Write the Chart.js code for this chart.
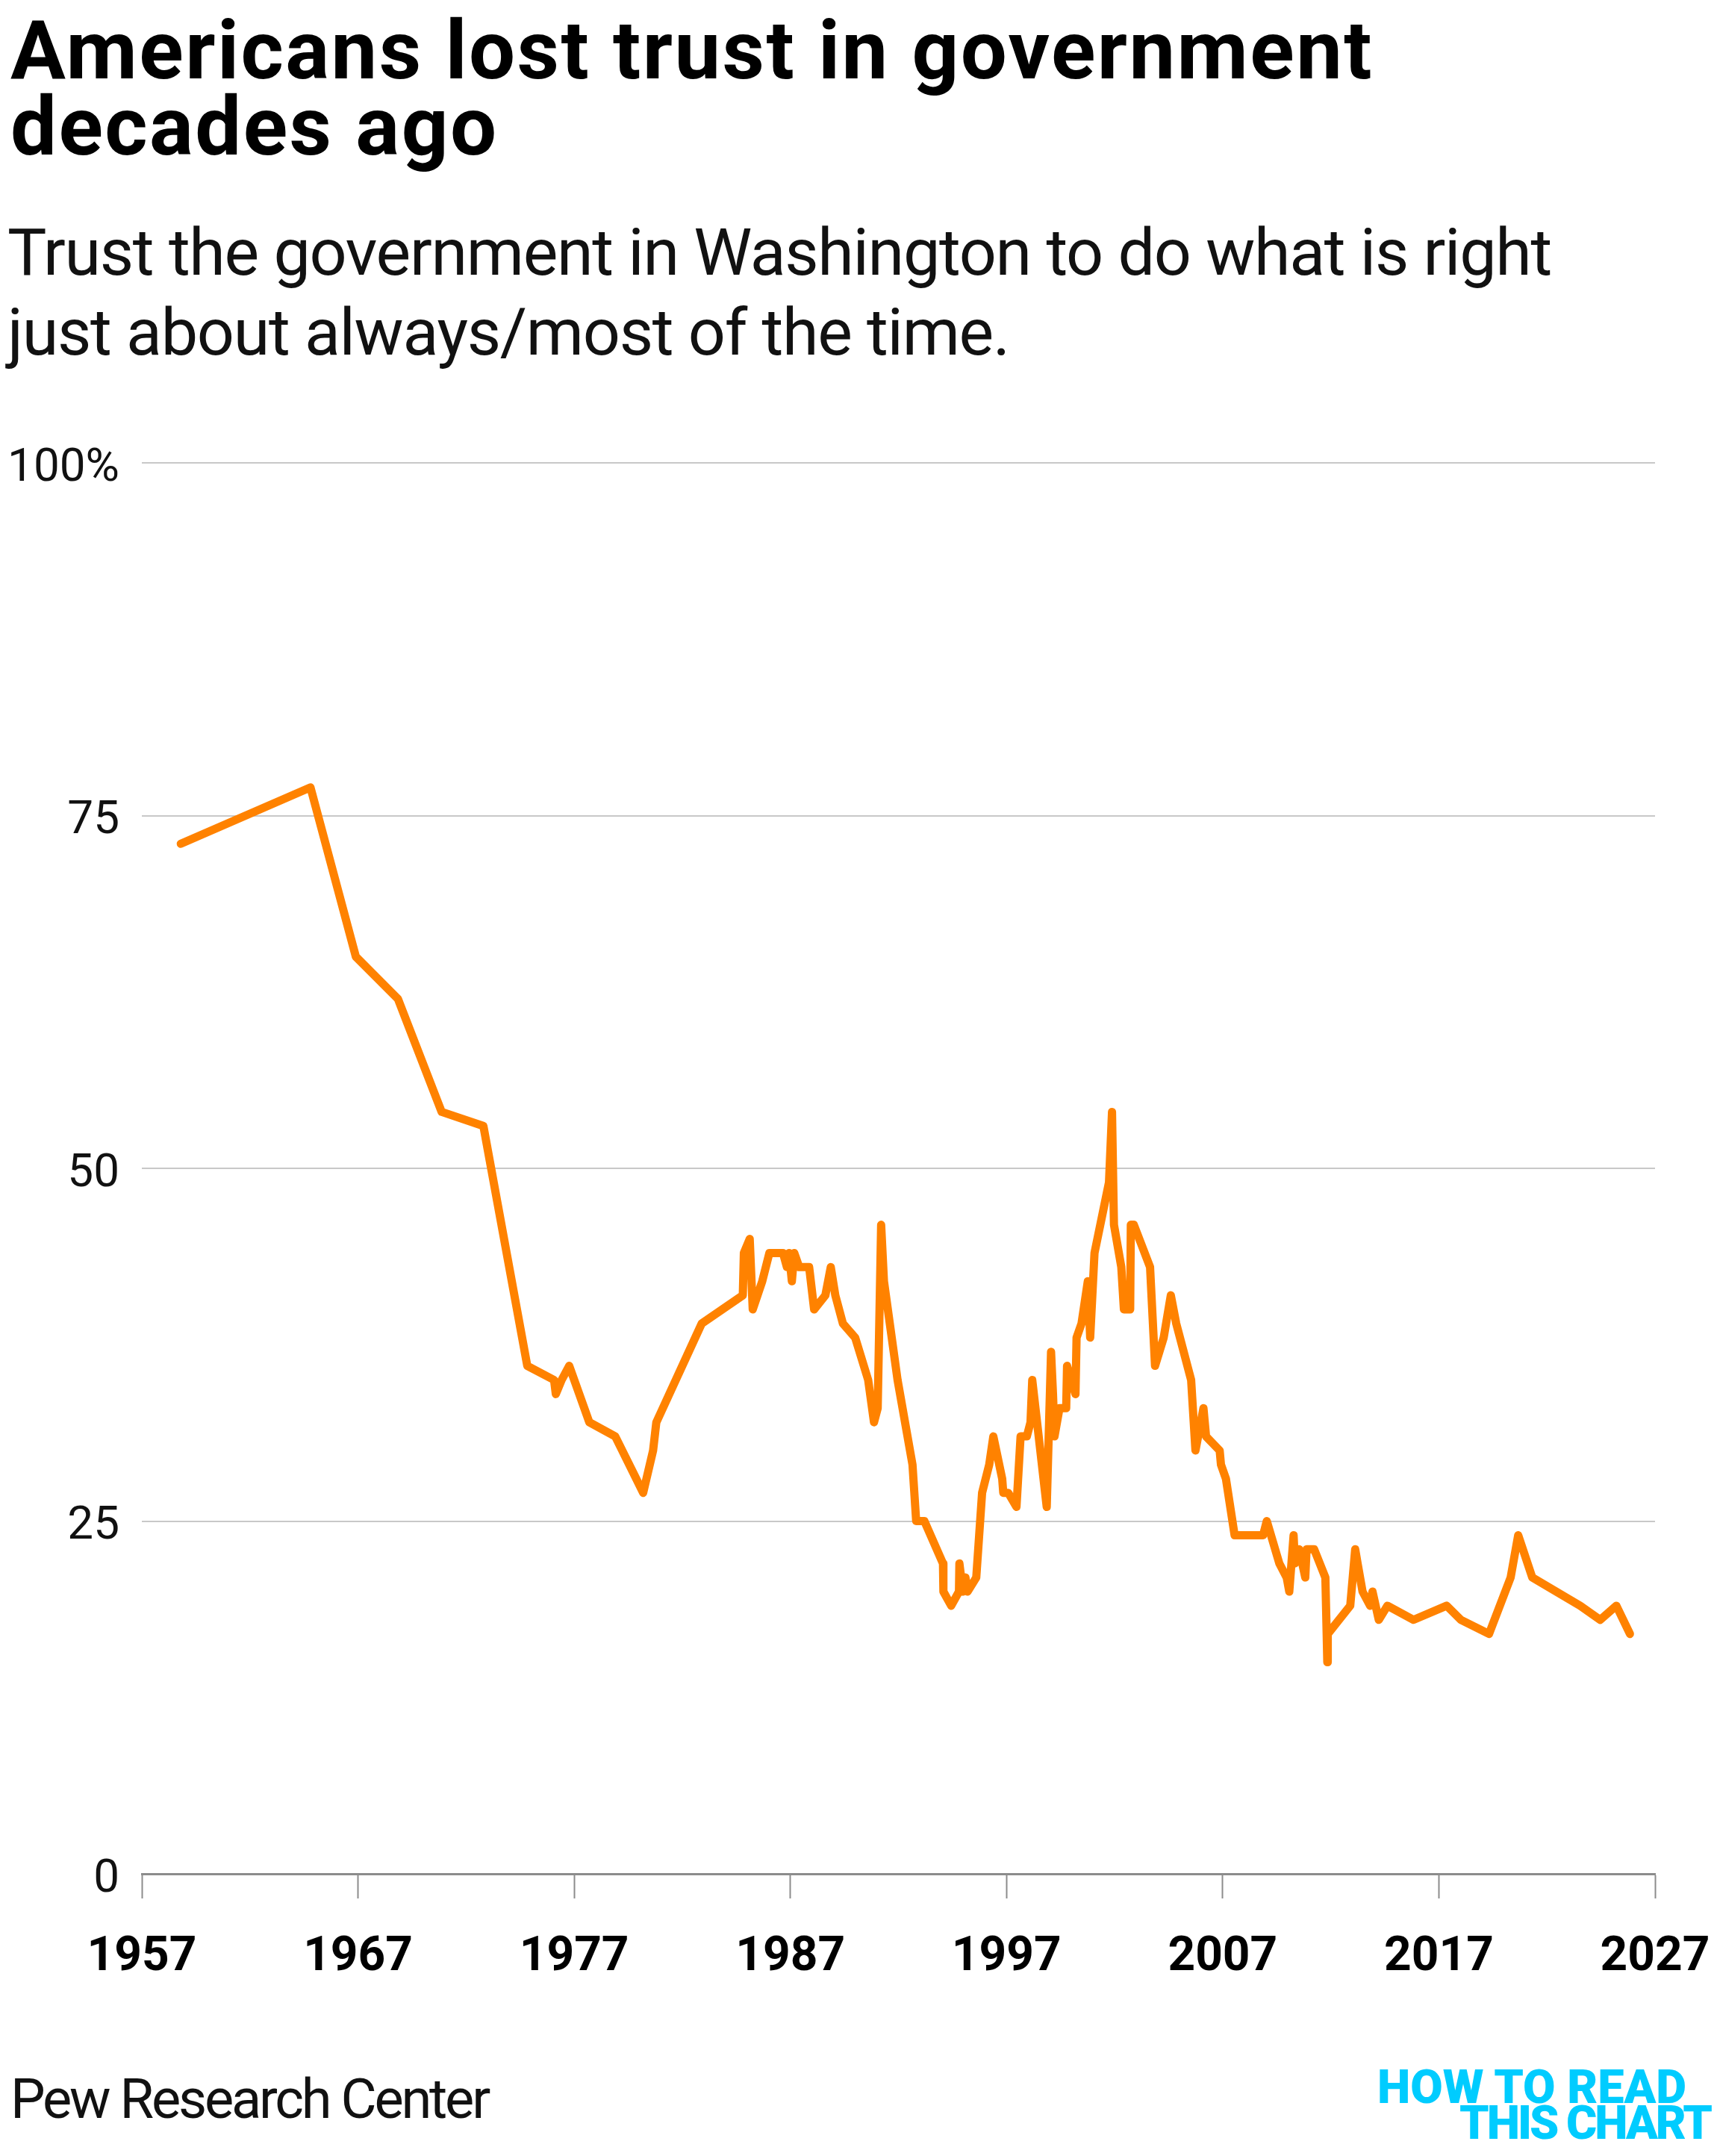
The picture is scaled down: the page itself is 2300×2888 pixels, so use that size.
<!DOCTYPE html>
<html>
<head>
<meta charset="utf-8">
<script src="https://cdn.jsdelivr.net/npm/chart.js@4/dist/chart.umd.min.js"></script>
<style>
html,body{margin:0;padding:0;background:#fff;}
#page{position:relative;width:2300px;height:2888px;overflow:hidden;background:#fff;}
#chartCanvas{position:absolute;left:0;top:0;}
.txt{position:absolute;white-space:nowrap;font-family:Roboto,"Noto Sans",sans-serif;margin:0;padding:0;}
.title{font-weight:700;color:#000;}
.sub{font-weight:400;color:#111;}
.foot{font-weight:400;color:#111;}
.logo{font-weight:900;color:#00ccff;}
</style>
</head>
<body>
<div id="page">
  <canvas id="chartCanvas" width="2300" height="2888"></canvas>
  <div id="t1" class="txt title">Americans lost trust in government</div>
  <div id="t2" class="txt title">decades ago</div>
  <div id="s1" class="txt sub">Trust the government in Washington to do what is right</div>
  <div id="s2" class="txt sub">just about always/most of the time.</div>
  <div id="f1" class="txt foot">Pew Research Center</div>
  <div id="l1" class="txt logo">HOW TO READ</div>
  <div id="l2" class="txt logo">THIS CHART</div>
</div>
<script>
// ---- Data ----
const surveyDates = [
  1958.8, 1964.8, 1966.9, 1968.85, 1970.87, 1972.8, 1974.83, 1976.07, 1976.15, 1976.42,
  1976.77, 1977.7, 1978.9, 1979.87, 1980.19, 1980.65, 1980.8, 1982.9, 1984.8, 1984.85,
  1985.12, 1985.26, 1985.7, 1986.03, 1986.66, 1986.84, 1986.94, 1987.07, 1987.18, 1987.41,
  1987.87, 1988.1, 1988.62, 1988.87, 1989.08, 1989.43, 1990.0, 1990.6, 1990.87, 1991.04,
  1991.2, 1991.33, 1991.96, 1992.65, 1992.82, 1993.2, 1994.06, 1994.08, 1994.44, 1994.8,
  1994.82, 1994.98, 1995.1, 1995.2, 1995.6, 1995.87, 1996.2, 1996.39, 1996.8, 1996.85,
  1997.08, 1997.46, 1997.65, 1997.94, 1998.11, 1998.19, 1998.86, 1999.06, 1999.15, 1999.22,
  1999.45, 1999.76, 1999.8, 2000.19, 2000.24, 2000.47, 2000.76, 2000.87, 2001.07, 2001.74,
  2001.88, 2001.97, 2002.31, 2002.43, 2002.72, 2002.75, 2002.89, 2003.64, 2003.87, 2004.27,
  2004.6, 2004.85, 2005.54, 2005.74, 2006.11, 2006.23, 2006.86, 2006.92, 2007.15, 2007.55,
  2008.87, 2009.04, 2009.62, 2009.96, 2010.08, 2010.28, 2010.34, 2010.54, 2010.82, 2010.88,
  2011.23, 2011.75, 2011.84, 2011.86, 2012.9, 2013.13, 2013.24, 2013.47, 2013.82, 2013.93,
  2014.22, 2014.62, 2015.83, 2017.36, 2018.02, 2019.32, 2020.32, 2020.67, 2021.32, 2023.54,
  2024.46, 2025.21, 2025.84
];
const trustPct = [
  73, 77, 65, 62, 54, 53, 36, 35, 34, 35,
  36, 32, 31, 28, 27, 30, 32, 39, 41, 44,
  45, 40, 42, 44, 44, 43, 44, 42, 44, 43,
  43, 40, 41, 43, 41, 39, 38, 35, 32, 33,
  46, 42, 35, 29, 25, 25, 22, 20, 19, 20,
  22, 20, 21, 20, 21, 27, 29, 31, 28, 27,
  27, 26, 31, 31, 32, 35, 26, 37, 34, 31,
  33, 33, 36, 34, 38, 39, 42, 38, 44, 49,
  54, 46, 43, 40, 40, 46, 46, 43, 36, 38,
  41, 39, 35, 30, 33, 31, 30, 29, 28, 24,
  24, 25, 22, 21, 20, 24, 22, 23, 21, 23,
  23, 21, 15, 17, 19, 23, 22, 20, 19, 20,
  18, 19, 18, 19, 18, 17, 21, 24, 21, 19,
  18, 19, 17
];
const yTickValues = [0, 25, 50, 75, 100];
const xTickYears = [1957, 1967, 1977, 1987, 1997, 2007, 2017, 2027];

// ---- Text placement helpers ----
function place(id, left, baseline, size){
  const el = document.getElementById(id);
  el.style.fontSize = size + 'px';
  el.style.lineHeight = size + 'px';
  el.style.left = left + 'px';
  el.style.top = (baseline - 0.8418 * size) + 'px';
  return el;
}
function fitWidth(id, target){
  const el = document.getElementById(id);
  el.style.letterSpacing = '0px';
  const w = el.getBoundingClientRect().width;
  const n = el.textContent.length;
  const ls = (target - w) / n;
  el.style.letterSpacing = ls + 'px';
  return ls;
}
function layoutText(){
  place('t1', 14, 106, 110);
  place('t2', 14, 208, 110);
  const lt = fitWidth('t1', 1826);
  document.getElementById('t2').style.letterSpacing = lt + 'px';
  place('s1', 10, 368, 88);
  place('s2', 10, 475, 88);
  const ls = fitWidth('s1', 2068);
  document.getElementById('s2').style.letterSpacing = ls + 'px';
  place('f1', 14, 2837, 74);
  fitWidth('f1', 640);
  place('l1', 1845, 2817, 63);
  fitWidth('l1', 414);
  place('l2', 1955, 2865, 63);
  fitWidth('l2', 336);
}
layoutText();
if (document.fonts && document.fonts.ready) document.fonts.ready.then(layoutText);

// ---- Chart ----
const PLOT_LEFT = 190, PLOT_RIGHT = 2217, PLOT_TOP = 620, PLOT_BOTTOM = 2510;
const ctx = document.getElementById('chartCanvas').getContext('2d');
new Chart(ctx, {
  type: 'line',
  data: {
    datasets: [{
      data: surveyDates.map((d, i) => ({ x: d, y: trustPct[i] })),
      borderColor: '#ff8200',
      borderWidth: 11,
      pointRadius: 0,
      tension: 0,
      fill: false,
      borderJoinStyle: 'round',
      borderCapStyle: 'round'
    }]
  },
  options: {
    responsive: false,
    animation: false,
    devicePixelRatio: 1,
    layout: { padding: { left: 0, right: 2300 - PLOT_RIGHT, top: PLOT_TOP, bottom: 0 } },
    plugins: { legend: { display: false }, tooltip: { enabled: false }, title: { display: false } },
    scales: {
      x: {
        type: 'linear',
        min: xTickYears[0],
        max: xTickYears[xTickYears.length - 1],
        afterBuildTicks: (axis) => { axis.ticks = xTickYears.map(v => ({ value: v })); },
        ticks: {
          callback: (v) => String(v),
          font: { family: 'Roboto', size: 64, weight: 'bold' },
          color: '#000',
          padding: 42,
          maxRotation: 0,
          autoSkip: false
        },
        grid: { drawOnChartArea: false, drawTicks: true, tickLength: 33, tickWidth: 2, tickColor: '#8c8c8c' },
        border: { display: true, color: '#8c8c8c', width: 3 },
        afterFit: (axis) => {
          axis.height = 2888 - PLOT_BOTTOM;
          axis.paddingLeft = 0;
          axis.paddingRight = 0;
        }
      },
      y: {
        min: 0,
        max: 100,
        afterBuildTicks: (axis) => { axis.ticks = yTickValues.map(v => ({ value: v })); },
        ticks: {
          callback: (v) => v === 100 ? '100%' : String(v),
          font: { family: 'Roboto', size: 62, weight: 'normal' },
          color: '#111',
          padding: 30,
          labelOffset: 8
        },
        grid: {
          color: (c) => (c.tick && c.tick.value === 0) ? 'rgba(0,0,0,0)' : '#c8c8c8',
          lineWidth: 2,
          drawTicks: false
        },
        border: { display: false },
        afterFit: (axis) => {
          axis.width = PLOT_LEFT;
          axis.paddingTop = 0;
          axis.paddingBottom = 0;
        }
      }
    }
  }
});
</script>
</body>
</html>
